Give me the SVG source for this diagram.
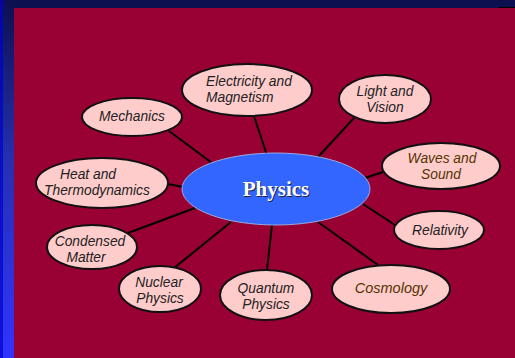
<svg xmlns="http://www.w3.org/2000/svg" width="515" height="358" viewBox="0 0 515 358">
<defs>
<linearGradient id="side" x1="0" y1="0" x2="0" y2="1">
<stop offset="0" stop-color="#0c1050"/>
<stop offset="0.45" stop-color="#2630b0"/>
<stop offset="1" stop-color="#3333ff"/>
</linearGradient>
<style>
.n{fill:#ffcccc;stroke:#111;stroke-width:2}
.t{font-family:"Liberation Sans",Arial,sans-serif;font-style:italic;font-size:13.8px;fill:#222;text-anchor:middle}
.s{text-anchor:start}
.o{fill:#553300}
.c line{stroke:#000;stroke-width:2}
</style>
</defs>
<rect x="0" y="0" width="515" height="358" fill="#990033"/>
<rect x="0" y="0" width="515" height="8" fill="#0c1050"/>
<rect x="0" y="0" width="14" height="358" fill="url(#side)"/>
<rect x="0" y="0" width="3" height="358" fill="#0000cc" opacity="0.7"/>
<rect x="499" y="7" width="16" height="1" fill="#000"/>
<g class="c">
<line x1="169" y1="131" x2="212" y2="163"/>
<line x1="254" y1="116" x2="267" y2="155"/>
<line x1="354" y1="118" x2="318" y2="157"/>
<line x1="383" y1="172" x2="365" y2="178"/>
<line x1="168" y1="184" x2="183" y2="187"/>
<line x1="128" y1="233" x2="195" y2="208"/>
<line x1="174" y1="268" x2="231" y2="222"/>
<line x1="272" y1="225" x2="267" y2="270"/>
<line x1="318" y1="222" x2="378" y2="265"/>
<line x1="363" y1="204" x2="395" y2="225"/>
</g>
<g id="mechanics"><ellipse class="n" cx="132" cy="117" rx="50" ry="19"/><text class="t" x="132" y="121">Mechanics</text></g>
<g id="electricity"><ellipse class="n" cx="247" cy="90" rx="65" ry="26"/><text class="t s" x="206" y="86">Electricity and</text><text class="t s" x="206" y="102">Magnetism</text></g>
<g id="light"><ellipse class="n" cx="385" cy="99" rx="46" ry="24"/><text class="t" x="385" y="96">Light and</text><text class="t" x="385" y="112">Vision</text></g>
<g id="waves"><ellipse class="n" cx="441" cy="166" rx="59" ry="23"/><text class="t o" x="442" y="163">Waves and</text><text class="t o" x="441" y="179">Sound</text></g>
<g id="heat"><ellipse class="n" cx="102" cy="183" rx="66" ry="25"/><text class="t" x="88" y="179">Heat and</text><text class="t" x="97" y="195">Thermodynamics</text></g>
<g id="condensed"><ellipse class="n" cx="92" cy="247" rx="45" ry="22"/><text class="t" x="90" y="246">Condensed</text><text class="t" x="86" y="262">Matter</text></g>
<g id="nuclear"><ellipse class="n" cx="160" cy="289" rx="41" ry="23"/><text class="t" x="159" y="287">Nuclear</text><text class="t" x="160" y="303">Physics</text></g>
<g id="quantum"><ellipse class="n" cx="266" cy="295" rx="46" ry="25"/><text class="t" x="266" y="293">Quantum</text><text class="t" x="266" y="309">Physics</text></g>
<g id="relativity"><ellipse class="n" cx="439" cy="230" rx="45" ry="19"/><text class="t" x="440" y="235">Relativity</text></g>
<g id="cosmology"><ellipse class="n" cx="391" cy="289" rx="59" ry="24"/><text class="t o" x="391" y="293" style="font-size:14.5px">Cosmology</text></g>
<g id="physics"><ellipse cx="276" cy="189" rx="94" ry="36" fill="#3366ff" stroke="#99aadd" stroke-width="1"/>
<text x="277" y="197" font-family="'Liberation Serif','Times New Roman',serif" font-weight="bold" font-size="21" fill="#222244" text-anchor="middle">Physics</text>
<text x="276" y="196" font-family="'Liberation Serif','Times New Roman',serif" font-weight="bold" font-size="21" fill="#ffffff" text-anchor="middle">Physics</text></g>
</svg>
